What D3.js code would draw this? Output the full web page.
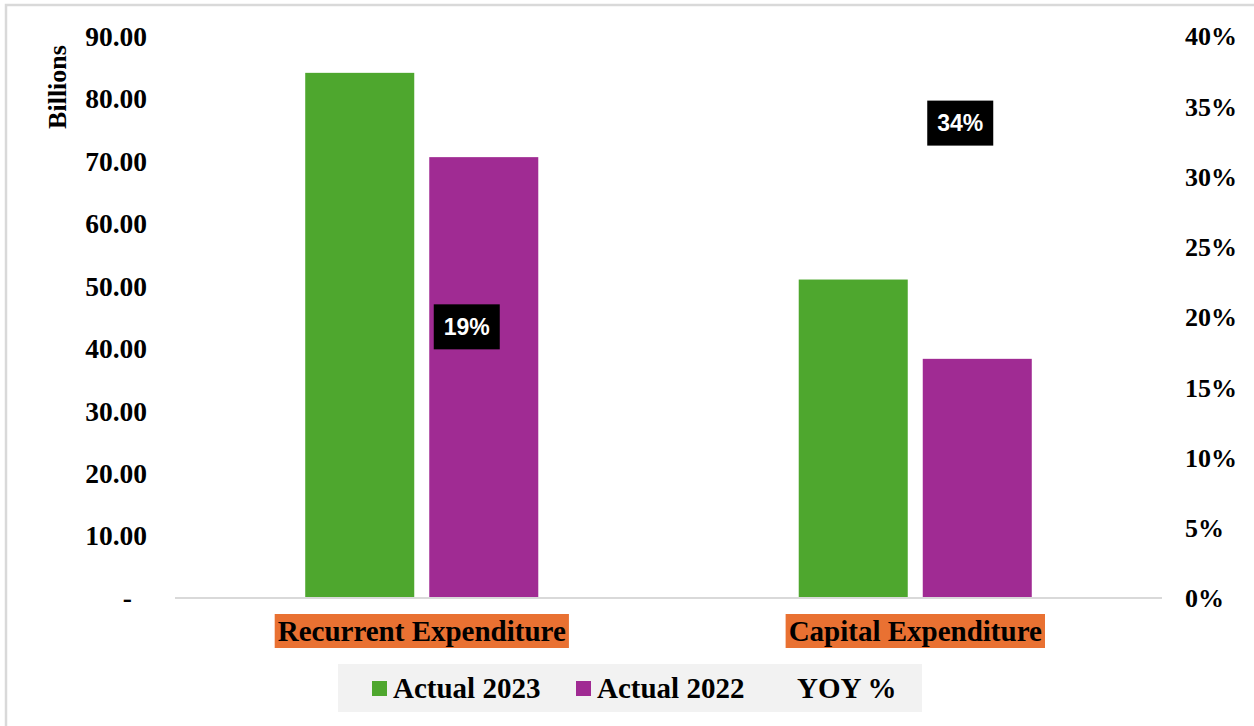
<!DOCTYPE html>
<html>
<head>
<meta charset="utf-8">
<script src="https://cdn.jsdelivr.net/npm/d3@7"></script>
<style>
  body { margin: 0; background: #fff; }
  svg { display: block; }
</style>
</head>
<body>
<svg id="chart" width="1254" height="726"></svg>
<script>
// + -- data ------------------------------------------------------------------ +
const categories = ['Recurrent Expenditure', 'Capital Expenditure']
const series = ['Actual 2023', 'Actual 2022']
const actual2023 = [84.1, 51.0]
const actual2022 = [70.6, 38.3]
const yoy = [0.193, 0.338]
const leftTicks = [0, 10, 20, 30, 40, 50, 60, 70, 80, 90]
const rightTicks = [0, 0.05, 0.10, 0.15, 0.20, 0.25, 0.30, 0.35, 0.40]

const colors = {'Actual 2023': '#4ea72e', 'Actual 2022': '#a02b93'}
const serif = "'Liberation Serif', 'Times New Roman', serif"

const svg = d3.select('#chart')

// outer chart border
svg.append('rect')
  .attr('x', 6).attr('y', 5)
  .attr('width', 1262).attr('height', 740)
  .attr('fill', '#fff')
  .attr('stroke', '#d9d9d9')
  .attr('stroke-width', 2.5)

const plot = {left: 175, right: 1162, top: 36, bottom: 598}

const x0 = d3.scaleBand().domain(categories).range([plot.left, plot.right]).padding(0)
const x1 = d3.scaleBand().domain(series).range([0, x0.bandwidth()])
  .paddingInner(0.121).paddingOuter(1.05)
const yL = d3.scaleLinear().domain([0, 90]).range([plot.bottom, plot.top])
const yR = d3.scaleLinear().domain([0, 0.4]).range([plot.bottom, plot.top])

// + -- bars ------------------------------------------------------------------ +
const rows = categories.map((c, i) => ({cat: c, vals: [
  {s: 'Actual 2023', v: actual2023[i]},
  {s: 'Actual 2022', v: actual2022[i]}
]}))

const groups = svg.selectAll('g.cat')
  .data(rows).enter()
  .append('g')
  .attr('class', 'cat')
  .attr('transform', d => 'translate(' + x0(d.cat) + ',0)')

groups.selectAll('rect')
  .data(d => d.vals).enter()
  .append('rect')
  .attr('x', d => x1(d.s))
  .attr('width', x1.bandwidth())
  .attr('y', d => yL(d.v))
  .attr('height', d => yL(0) - yL(d.v))
  .attr('fill', d => colors[d.s])

// baseline
svg.append('line')
  .attr('x1', plot.left).attr('x2', plot.right)
  .attr('y1', yL(0)).attr('y2', yL(0))
  .attr('stroke', '#d9d9d9')
  .attr('stroke-width', 2)

// + -- left axis ------------------------------------------------------------- +
const axL = svg.append('g')
  .attr('transform', 'translate(' + (plot.left - 28) + ',0)')
  .call(d3.axisLeft(yL).tickValues(leftTicks).tickSize(0).tickPadding(0)
    .tickFormat(d => d === 0 ? '-' : d3.format('.2f')(d)))
axL.select('.domain').remove()
axL.selectAll('text')
  .attr('font-family', serif)
  .attr('font-size', 27.5)
  .attr('font-weight', 700)
  .attr('fill', '#000')
  .attr('dy', '0.34em')
axL.selectAll('.tick').filter(d => d === 0).select('text')
  .attr('x', -15).attr('dy', '0.3em')

svg.append('text')
  .attr('transform', 'translate(66,87) rotate(-90)')
  .attr('text-anchor', 'middle')
  .attr('font-family', serif)
  .attr('font-size', 26)
  .attr('font-weight', 700)
  .text('Billions')

// + -- right axis ------------------------------------------------------------ +
const axR = svg.append('g')
  .attr('transform', 'translate(1185,0)')
  .call(d3.axisRight(yR).tickValues(rightTicks).tickSize(0).tickPadding(0)
    .tickFormat(d3.format('.0%')))
axR.select('.domain').remove()
axR.selectAll('text')
  .attr('font-family', serif)
  .attr('font-size', 26)
  .attr('font-weight', 700)
  .attr('fill', '#000')
  .attr('dy', '0.34em')

// + -- YOY labels (line itself is not drawn) --------------------------------- +
const yoyLbl = svg.selectAll('g.yoy')
  .data(categories.map((c, i) => ({cat: c, v: yoy[i]}))).enter()
  .append('g')
  .attr('class', 'yoy')
  .attr('transform', d => 'translate(' + (x0(d.cat) + x0.bandwidth() / 2 + 45) + ',' + yR(d.v) + ')')
yoyLbl.append('rect')
  .attr('x', -33).attr('y', -22.5)
  .attr('width', 66).attr('height', 45)
  .attr('fill', '#000')
yoyLbl.append('text')
  .attr('text-anchor', 'middle')
  .attr('dy', '0.36em')
  .attr('font-family', "'Liberation Sans', Arial, sans-serif")
  .attr('font-size', 23)
  .attr('font-weight', 700)
  .attr('fill', '#fff')
  .text(d => d3.format('.0%')(d.v))

// + -- category labels with orange fill -------------------------------------- +
const catLbl = svg.selectAll('g.catlbl')
  .data(categories).enter()
  .append('g')
  .attr('class', 'catlbl')
  .attr('transform', d => 'translate(' + (x0(d) + x0.bandwidth() / 2) + ',641)')
const catBg = catLbl.append('rect').attr('fill', '#e97132')
const catTxt = catLbl.append('text')
  .attr('text-anchor', 'middle')
  .attr('font-family', serif)
  .attr('font-size', 29)
  .attr('font-weight', 700)
  .attr('fill', '#000')
  .text(d => d)
catTxt.each(function (d, i) {
  let bb = this.getBBox()
  d3.select(catBg.nodes()[i])
    .attr('x', bb.x - 3).attr('width', bb.width + 6)
    .attr('y', -27).attr('height', 34)
})

// + -- legend ---------------------------------------------------------------- +
svg.append('rect')
  .attr('x', 338).attr('y', 664)
  .attr('width', 584).attr('height', 48)
  .attr('fill', '#f2f2f2')

const legendItems = [
  {name: 'Actual 2023', x: 372, marker: true},
  {name: 'Actual 2022', x: 576, marker: true},
  {name: 'YOY %', x: 797, marker: false}
]
const leg = svg.selectAll('g.leg')
  .data(legendItems).enter()
  .append('g')
  .attr('class', 'leg')
  .attr('transform', d => 'translate(' + d.x + ',0)')
leg.filter(d => d.marker).append('rect')
  .attr('x', 0).attr('y', 681)
  .attr('width', 15).attr('height', 15)
  .attr('fill', d => colors[d.name])
leg.append('text')
  .attr('x', d => d.marker ? 21 : 0)
  .attr('y', 698)
  .attr('font-family', serif)
  .attr('font-size', 29)
  .attr('font-weight', 700)
  .attr('fill', '#000')
  .text(d => d.name)
</script>
</body>
</html>
